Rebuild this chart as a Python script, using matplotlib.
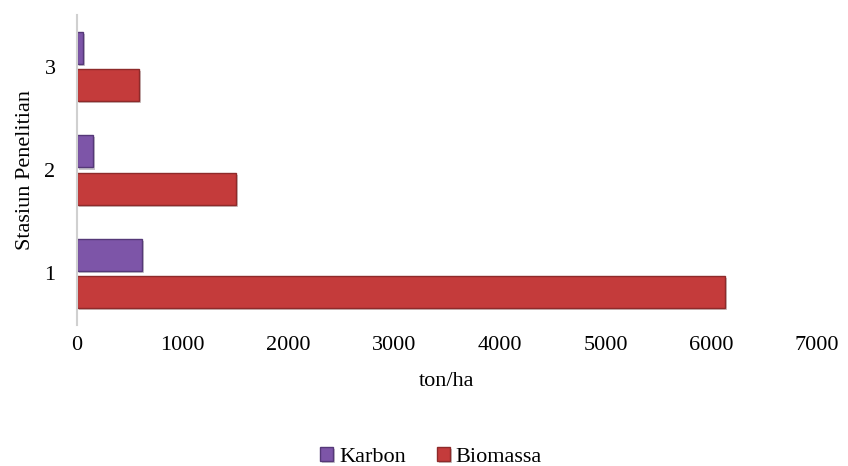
import matplotlib.pyplot as plt
import matplotlib.patheffects as pe
import numpy as np

plt.rcParams['font.family'] = ['Liberation Serif', 'DejaVu Serif']

stasiun = ['1', '2', '3']
karbon = [615, 150, 60]
biomassa = [6130, 1500, 590]

y = np.arange(len(stasiun))
h = 0.31
shadow = [pe.SimplePatchShadow(offset=(1.5, -1.5), alpha=0.25), pe.Normal()]

fig = plt.figure(figsize=(8.48, 4.66), dpi=100)
ax = fig.add_axes([77 / 848, 1 - 325 / 466, 740 / 848, 310 / 466])

b1 = ax.barh(y - 0.18, biomassa, height=h, color='#C43B3B', edgecolor='#8E2A2A',
             linewidth=1, label='Biomassa', path_effects=shadow)
b2 = ax.barh(y + 0.18, karbon, height=h, color='#7D55A8', edgecolor='#553878',
             linewidth=1, label='Karbon', path_effects=shadow)

ax.set_xlim(0, 7000)
ax.set_ylim(-0.5, 2.5)
ax.set_yticks(y)
ax.set_yticklabels(stasiun)
ax.set_xticks(np.arange(0, 7001, 1000))
ax.tick_params(axis='both', length=0, labelsize=16, pad=8)
ax.tick_params(axis='y', pad=15.5)

for s in ['top', 'right', 'bottom']:
    ax.spines[s].set_visible(False)
ax.spines['left'].set_color('#D0D0D0')
ax.spines['left'].set_linewidth(1.5)

ax.set_xlabel('ton/ha', fontsize=16, labelpad=12)
ax.set_ylabel('Stasiun Penelitian', fontsize=16, labelpad=7)

fig.legend(handles=[b2, b1], labels=['Karbon', 'Biomassa'], loc='center',
           bbox_to_anchor=(431 / 848, 1 - 457 / 466), ncol=2, frameon=False,
           fontsize=16, handlelength=0.6, handleheight=0.6, handletextpad=0.25,
           columnspacing=1.4)

fig.savefig('out.png', dpi=100)
